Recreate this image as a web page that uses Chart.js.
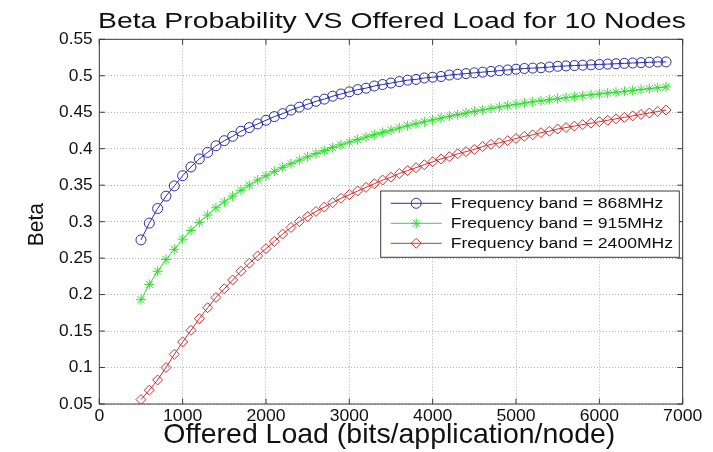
<!DOCTYPE html>
<html>
<head>
<meta charset="utf-8">
<script src="https://cdn.jsdelivr.net/npm/chart.js@4.4.0/dist/chart.umd.min.js"></script>
<style>
  html, body { margin: 0; padding: 0; background: #fff; }
  #wrap { width: 713px; height: 452px; }
</style>
</head>
<body>
<div id="wrap"><canvas id="c" width="713" height="452"></canvas></div>
<script>
// Offered load (bits/application/node) at which beta was evaluated
const offeredLoad = [
  500, 600, 700, 800, 900, 1000, 1100, 1200, 1300, 1400, 1500, 1600, 1700, 1800, 1900, 2000,
  2100, 2200, 2300, 2400, 2500, 2600, 2700, 2800, 2900, 3000, 3100, 3200, 3300, 3400, 3500, 3600,
  3700, 3800, 3900, 4000, 4100, 4200, 4300, 4400, 4500, 4600, 4700, 4800, 4900, 5000, 5100, 5200,
  5300, 5400, 5500, 5600, 5700, 5800, 5900, 6000, 6100, 6200, 6300, 6400, 6500, 6600, 6700, 6800
];

// Beta probability per frequency band
const beta868 = [
  0.275, 0.298, 0.318, 0.335, 0.349, 0.363, 0.375, 0.386, 0.395, 0.404, 0.411, 0.417, 0.424, 0.429, 0.434, 0.439,
  0.444, 0.448, 0.453, 0.457, 0.461, 0.465, 0.468, 0.472, 0.475, 0.478, 0.481, 0.483, 0.486, 0.488, 0.490, 0.492,
  0.494, 0.495, 0.497, 0.498, 0.499, 0.501, 0.502, 0.503, 0.504, 0.505, 0.506, 0.507, 0.508, 0.509, 0.510, 0.5105,
  0.511, 0.512, 0.513, 0.5135, 0.514, 0.5145, 0.515, 0.5155, 0.516, 0.5165, 0.517, 0.5175, 0.518, 0.5185, 0.519, 0.519
];
const beta915 = [
  0.193, 0.214, 0.232, 0.248, 0.262, 0.276, 0.288, 0.299, 0.309, 0.319, 0.327, 0.335, 0.343, 0.350, 0.357, 0.363,
  0.369, 0.3745, 0.3795, 0.3843, 0.3889, 0.3933, 0.3975, 0.4015, 0.4053, 0.409, 0.4125, 0.4159, 0.4192, 0.4224, 0.4255, 0.4285,
  0.4314, 0.4342, 0.4369, 0.4395, 0.442, 0.4445, 0.4468, 0.449, 0.4512, 0.4533, 0.4553, 0.4572, 0.4591, 0.4609, 0.4626, 0.4642,
  0.4657, 0.4672, 0.4686, 0.47, 0.4713, 0.4726, 0.4739, 0.4751, 0.4763, 0.4775, 0.4787, 0.4799, 0.4811, 0.4823, 0.4835, 0.4847
];
const beta2400 = [
  0.056, 0.069, 0.083, 0.100, 0.118, 0.135, 0.151, 0.167, 0.182, 0.196, 0.208, 0.220, 0.232, 0.243, 0.253, 0.263,
  0.273, 0.283, 0.292, 0.300, 0.307, 0.314, 0.320, 0.326, 0.332, 0.337, 0.342, 0.347, 0.352, 0.357, 0.361, 0.366,
  0.370, 0.374, 0.378, 0.382, 0.386, 0.389, 0.393, 0.396, 0.399, 0.403, 0.406, 0.408, 0.411, 0.414, 0.417, 0.419,
  0.422, 0.424, 0.427, 0.429, 0.431, 0.433, 0.435, 0.437, 0.439, 0.441, 0.443, 0.445, 0.447, 0.449, 0.451, 0.453
];

const seriesLabels = [
  'Frequency band = 868MHz',
  'Frequency band = 915MHz',
  'Frequency band = 2400MHz'
];

const xTickValues = [0, 1000, 2000, 3000, 4000, 5000, 6000, 7000];
const yTickValues = [0.05, 0.1, 0.15, 0.2, 0.25, 0.3, 0.35, 0.4, 0.45, 0.5, 0.55];

const titleText = 'Beta Probability VS Offered Load for 10 Nodes';
const xTitleText = 'Offered Load (bits/application/node)';
const yTitleText = 'Beta';

const FONT = '"Liberation Sans", Arial, Helvetica, sans-serif';
const INK = '#111';

function pairs(ys) {
  return offeredLoad.map((x, i) => ({ x: x, y: ys[i] }));
}

function series(label, ys, color, style, radius) {
  return {
    label: label,
    data: pairs(ys),
    borderColor: color,
    borderWidth: 1,
    backgroundColor: 'rgba(0,0,0,0)',
    pointStyle: style,
    pointRadius: radius,
    pointBorderColor: color,
    pointBackgroundColor: 'rgba(0,0,0,0)',
    pointBorderWidth: 1,
    tension: 0,
    fill: false
  };
}

// Text drawn with a horizontal stretch so it spans a given width
function drawText(ctx, text, x, y, o) {
  ctx.save();
  ctx.font = (o.weight || 'normal') + ' ' + o.size + 'px ' + FONT;
  ctx.fillStyle = o.color || INK;
  ctx.textBaseline = o.baseline || 'alphabetic';
  ctx.textAlign = o.align || 'left';
  const w = ctx.measureText(text).width;
  const sx = o.width ? o.width / w : (o.sx || 1);
  ctx.translate(x, y);
  if (o.rotate) ctx.rotate(o.rotate);
  ctx.scale(sx, 1);
  ctx.fillText(text, 0, 0);
  ctx.restore();
}

const fmt = v => String(parseFloat(v.toFixed(2)));

const framePlugin = {
  id: 'frame',
  afterDraw(chart) {
    const ctx = chart.ctx;
    const a = chart.chartArea;
    const xs = chart.scales.x;
    const ys = chart.scales.y;
    const tick = 5.5;

    // axes box and inward tick marks on all four sides
    ctx.save();
    ctx.strokeStyle = '#3a3a3a';
    ctx.lineWidth = 1;
    ctx.strokeRect(a.left, a.top, a.right - a.left, a.bottom - a.top);
    ctx.beginPath();
    xs.ticks.forEach(t => {
      const px = xs.getPixelForValue(t.value);
      ctx.moveTo(px, a.bottom); ctx.lineTo(px, a.bottom - tick);
      ctx.moveTo(px, a.top); ctx.lineTo(px, a.top + tick);
    });
    ys.ticks.forEach(t => {
      const py = ys.getPixelForValue(t.value);
      ctx.moveTo(a.left, py); ctx.lineTo(a.left + tick, py);
      ctx.moveTo(a.right, py); ctx.lineTo(a.right - tick, py);
    });
    ctx.stroke();
    ctx.restore();

    // tick labels
    ys.ticks.forEach(t => {
      drawText(ctx, fmt(t.value), a.left - 6.6, ys.getPixelForValue(t.value) + 0.5,
        { size: 16, sx: 1.08, align: 'right', baseline: 'middle' });
    });
    xs.ticks.forEach(t => {
      drawText(ctx, String(t.value), xs.getPixelForValue(t.value), a.bottom + 13,
        { size: 16, sx: 1.1, align: 'center', baseline: 'middle' });
    });

    // titles
    drawText(ctx, titleText, (a.left + a.right) / 2 + 1, 28,
      { size: 21.5, width: 588, align: 'center' });
    drawText(ctx, xTitleText, 163.3, 443,
      { size: 28, width: 452, align: 'left' });
    drawText(ctx, yTitleText, 43, (a.top + a.bottom) / 2 + 3,
      { size: 22, sx: 0.95, align: 'center', rotate: -Math.PI / 2 });

    // legend box inside the axes
    const box = { left: a.right - 302, top: a.top + 151.7, right: a.right - 3.4, bottom: a.top + 218 };
    ctx.save();
    ctx.fillStyle = '#fff';
    ctx.fillRect(box.left, box.top, box.right - box.left, box.bottom - box.top);
    ctx.strokeStyle = '#3a3a3a';
    ctx.lineWidth = 1;
    ctx.strokeRect(box.left, box.top, box.right - box.left, box.bottom - box.top);
    ctx.restore();

    let legendSx = null;
    chart.data.datasets.forEach((ds, i) => {
      const y = box.top + 12.3 + i * 20;
      const x0 = box.left + 10;
      const x1 = box.left + 61;
      ctx.save();
      ctx.strokeStyle = ds.borderColor;
      ctx.lineWidth = 1;
      ctx.beginPath();
      ctx.moveTo(x0, y); ctx.lineTo(x1, y);
      ctx.stroke();
      ctx.fillStyle = 'rgba(0,0,0,0)';
      Chart.helpers.drawPoint(ctx, {
        pointStyle: ds.pointStyle, radius: ds.pointRadius, borderWidth: 1, rotation: 0
      }, (x0 + x1) / 2, y);
      ctx.restore();

      if (legendSx === null) {
        ctx.save();
        ctx.font = '15.5px ' + FONT;
        legendSx = 212.6 / ctx.measureText(seriesLabels[0]).width;
        ctx.restore();
      }
      drawText(ctx, ds.label, box.left + 70, y + 0.5,
        { size: 15.5, sx: legendSx, align: 'left', baseline: 'middle' });
    });
  }
};

const chart = new Chart(document.getElementById('c'), {
  type: 'line',
  data: {
    datasets: [
      series(seriesLabels[0], beta868, '#2e2ea6', 'circle', 5),
      series(seriesLabels[1], beta915, '#2fdc2f', 'star', 5),
      series(seriesLabels[2], beta2400, '#c83232', 'rectRot', 5)
    ]
  },
  options: {
    responsive: false,
    animation: false,
    devicePixelRatio: 1,
    layout: { padding: { left: 0, top: 39.3, right: 30.3, bottom: 0 } },
    plugins: {
      legend: { display: false },
      title: { display: false },
      tooltip: { enabled: false }
    },
    scales: {
      x: {
        type: 'linear',
        min: 0,
        max: 7000,
        afterBuildTicks: s => { s.ticks = xTickValues.map(v => ({ value: v })); },
        afterFit: s => { s.height = 48; },
        ticks: { display: false },
        grid: { color: '#b4b4b4', lineWidth: 1, drawTicks: false },
        border: { display: false, dash: [1, 2] }
      },
      y: {
        type: 'linear',
        min: 0.05,
        max: 0.55,
        afterBuildTicks: s => { s.ticks = yTickValues.map(v => ({ value: v })); },
        afterFit: s => { s.width = 99.3; },
        ticks: { display: false },
        grid: { color: '#b4b4b4', lineWidth: 1, drawTicks: false },
        border: { display: false, dash: [1, 2] }
      }
    }
  },
  plugins: [framePlugin]
});
</script>
</body>
</html>
